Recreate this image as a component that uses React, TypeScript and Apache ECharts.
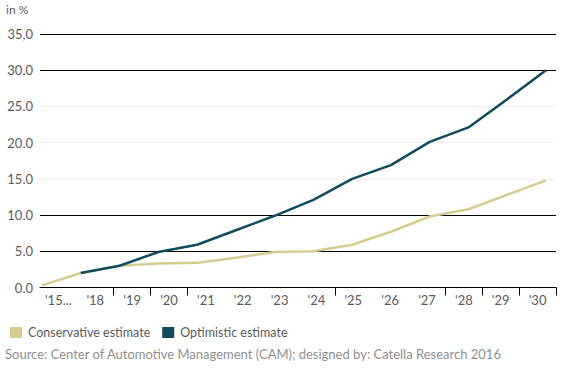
import React, { useEffect, useRef } from "react";
import * as echarts from "echarts";

const categories = ["'15...", "'18", "'19", "'20", "'21", "'22", "'23", "'24", "'25", "'26", "'27", "'28", "'29", "'30"];
const conservative = [0.3, 2.0, 3.0, 3.3, 3.4, 4.1, 4.9, 5.0, 5.9, 7.7, 9.8, 10.8, 12.8, 14.8];
const optimistic = [null, 2.0, 3.0, 4.9, 5.9, 7.9, 9.9, 12.1, 15.0, 16.9, 20.1, 22.1, 26.0, 30.0];
const yTickLabels = ["0.0", "5.0", "10.0", "15.0", "20.0", "25.0", "30.0", "35,0"];
const visibleTicks = [2, 3, 4, 8, 11, 12, 13];

const FONT = "Lato";
const TEXT = "#5a5a5a";

export default function App() {
  const ref = useRef<HTMLDivElement>(null);
  useEffect(() => {
    if (!ref.current) return;
    const chart = echarts.init(ref.current, null, { renderer: "svg" });
    const toPairs = (arr: (number | null)[]) =>
      arr.map((v, i) => (v === null ? null : [i, v])).filter((p) => p !== null);
    chart.setOption({
      animation: false,
      textStyle: { fontFamily: FONT },
      grid: { left: 40, right: 14, top: 34, bottom: 84.5 },
      legend: {
        left: 5,
        top: 321,
        icon: "rect",
        itemWidth: 12,
        itemHeight: 11,
        itemGap: 12,
        textStyle: { fontFamily: FONT, fontSize: 12.5, color: TEXT, padding: [0, 0, 0, 1] },
        data: ["Conservative estimate", "Optimistic estimate"],
      },
      graphic: [
        { type: "text", left: 6, top: 3, style: { text: "in %", fontFamily: FONT, fontSize: 12, fill: TEXT } },
        {
          type: "text",
          left: 5,
          top: 347,
          style: {
            text: "Source: Center of Automotive Management (CAM); designed by: Catella Research 2016",
            fontFamily: FONT,
            fontSize: 13,
            fill: "#8f8f8f",
          },
        },
      ],
      xAxis: [
        {
          type: "category",
          data: categories,
          boundaryGap: true,
          axisLine: { lineStyle: { color: "#000", width: 1 } },
          axisTick: {
            show: true,
            length: 8,
            lineStyle: { color: "#000" },
            interval: (i: number) => visibleTicks.includes(i),
          },
          axisLabel: { color: TEXT, fontSize: 13, fontFamily: FONT, margin: 6, interval: 0 },
        },
        {
          type: "value",
          show: false,
          min: -0.0516,
          max: 13.258,
        },
      ],
      yAxis: {
        type: "value",
        min: 0,
        max: 35,
        interval: 5,
        axisLine: { show: false },
        axisTick: { show: false },
        axisLabel: {
          color: TEXT,
          fontSize: 13,
          fontFamily: FONT,
          margin: 7,
          formatter: (v: number) => yTickLabels[Math.round(v / 5)],
        },
        splitLine: {
          lineStyle: {
            color: ["#000", "#000", "#000", "#efefef", "#efefef", "#efefef", "#000", "#000"],
            width: 1,
          },
        },
      },
      series: [
        {
          name: "Conservative estimate",
          type: "line",
          xAxisIndex: 1,
          data: toPairs(conservative),
          showSymbol: false,
          lineStyle: { color: "#d5cd90", width: 2.5 },
          itemStyle: { color: "#d5cd90" },
        },
        {
          name: "Optimistic estimate",
          type: "line",
          xAxisIndex: 1,
          data: toPairs(optimistic),
          showSymbol: false,
          lineStyle: { color: "#0f4c5c", width: 2.5 },
          itemStyle: { color: "#0f4c5c" },
        },
      ],
    });
    return () => chart.dispose();
  }, []);
  return <div ref={ref} style={{ width: 570, height: 372, position: "absolute", left: 0, top: 0 }} />;
}
